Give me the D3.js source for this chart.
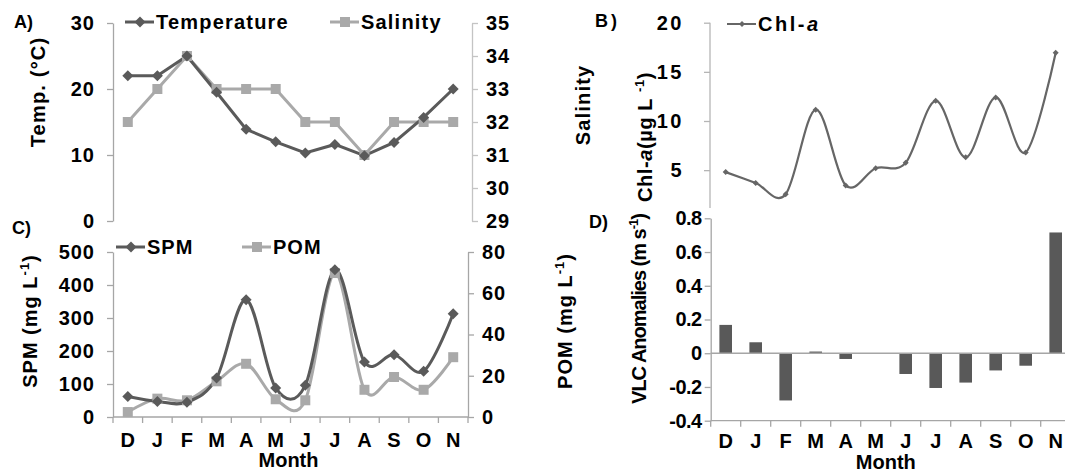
<!DOCTYPE html>
<html>
<head>
<meta charset="utf-8">
<script src="https://cdn.jsdelivr.net/npm/d3@7"></script>
<style>
body { margin: 0; background: #fff; }
svg text { font-family: "Liberation Sans", Arial, sans-serif; font-weight: bold; fill: #000; }
</style>
</head>
<body>
<script>
// data
const months = ["D", "J", "F", "M", "A", "M", "J", "J", "A", "S", "O", "N"]
const temperature = [22, 22, 25, 19.5, 13.9, 12, 10.3, 11.6, 9.9, 11.9, 15.7, 20]
const salinity = [32, 33, 34, 33, 33, 33, 32, 32, 31, 32, 32, 32]
const chla = [4.8, 3.7, 2.55, 11.15, 3.45, 5.2, 5.75, 12.05, 6.3, 12.4, 6.8, 16.95]
const spm = [62, 47, 45, 118, 355, 88, 96, 446, 167, 189, 139, 313]
const pom = [2.4, 8.9, 8.1, 17.3, 25.8, 8.6, 8.1, 69.8, 13.2, 19.4, 13.2, 29]
const vlc = [0.168, 0.065, -0.28, 0.01, -0.034, 0, -0.123, -0.206, -0.174, -0.102, -0.074, 0.716]

const tempTicks = [0, 10, 20, 30]
const salTicks = [29, 30, 31, 32, 33, 34, 35]
const chlTicks = [5, 10, 15, 20]
const spmTicks = [0, 100, 200, 300, 400, 500]
const pomTicks = [0, 20, 40, 60, 80]
const vlcTicks = [-0.4, -0.2, 0, 0.2, 0.4, 0.6, 0.8]

const dark = "#5a5a5a"
const light = "#a9a9a9"
const axisCol = "#a6a6a6"

const W = 1065, H = 475
const svg = d3.select("body").append("svg").attr("width", W).attr("height", H)

const idx = d3.range(12)
const xL = d3.scaleBand().domain(idx).range([113, 468])
const xR = d3.scaleBand().domain(idx).range([710.7, 1070.7])
const cx = (x, i) => x(i) + x.bandwidth() / 2

const yTemp = d3.scaleLinear().domain([0, 30]).range([221, 23])
const ySal = d3.scaleLinear().domain([29, 35]).range([221, 23])
const ySpm = d3.scaleLinear().domain([0, 500]).range([417, 252])
const yPom = d3.scaleLinear().domain([0, 80]).range([417, 252])
const yChl = d3.scaleLinear().domain([0, 20]).range([219.3, 22.7])
const yVlc = d3.scaleLinear().domain([-0.4, 0.8]).range([420.7, 218.3])

const diamond = r => `M0,${-r}L${r},0L0,${r}L${-r},0Z`
const square = r => `M${-r},${-r}H${r}V${r}H${-r}Z`

function yAxis(gen, scale, ticks, x, color, fmt, pad, spacing) {
  const g = svg.append("g").attr("transform", `translate(${x},0)`)
    .call(gen(scale).tickValues(ticks).tickSize(6).tickSizeOuter(0).tickPadding(pad).tickFormat(fmt || (d => d)))
  g.select(".domain").attr("stroke", color).attr("stroke-width", 1.3)
  g.selectAll(".tick line").attr("stroke", color).attr("stroke-width", 1.3)
  g.selectAll("text").attr("font-size", 20).style("letter-spacing", (spacing || 1) + "px")
  return g
}

function line(data, x, y, color, width, smooth) {
  const gen = d3.line().x((d, i) => cx(x, i)).y(d => y(d))
  if (smooth) gen.curve(d3.curveCardinal.tension(0))
  svg.append("path").datum(data).attr("d", gen)
    .attr("fill", "none").attr("stroke", color).attr("stroke-width", width)
}

function markers(data, x, y, color, shape, r) {
  svg.append("g").selectAll("path").data(data).join("path")
    .attr("transform", (d, i) => `translate(${cx(x, i)},${y(d)})`)
    .attr("d", shape(r)).attr("fill", color)
}

function legend(x, y, label, color, shape, r, width, spacing, italicTail) {
  svg.append("line").attr("x1", x).attr("x2", x + 29).attr("y1", y).attr("y2", y)
    .attr("stroke", color).attr("stroke-width", width)
  svg.append("path").attr("transform", `translate(${x + 15},${y})`).attr("d", shape(r)).attr("fill", color)
  const t = svg.append("text").attr("x", x + 31).attr("y", y + 7).attr("font-size", 20)
    .style("letter-spacing", spacing + "px").text(label)
  if (italicTail) t.append("tspan").attr("font-style", "italic").text(italicTail)
}

function vlabel(x, y, parts, spacing) {
  const t = svg.append("text").attr("transform", `translate(${x},${y}) rotate(-90)`)
    .attr("text-anchor", "middle").attr("font-size", 20).style("letter-spacing", spacing + "px")
  parts.forEach(p => {
    const s = t.append("tspan").text(p.t)
    if (p.i) s.attr("font-style", "italic")
    if (p.sup) s.attr("font-size", 13).attr("dy", -8)
    if (p.down) s.attr("dy", 8)
  })
}

function monthAxis(x, y, mY, titleY) {
  const g = svg.append("g").attr("transform", `translate(0,${y})`)
  g.append("line").attr("x1", x.range()[0]).attr("x2", x.range()[1]).attr("stroke", axisCol).attr("stroke-width", 1.3)
  g.selectAll(".tk").data(d3.range(13)).join("line")
    .attr("x1", i => x.range()[0] + i * x.step()).attr("x2", i => x.range()[0] + i * x.step())
    .attr("y1", 0).attr("y2", 6).attr("stroke", axisCol).attr("stroke-width", 1.3)
  g.selectAll(".m").data(months).join("text")
    .attr("x", (d, i) => cx(x, i)).attr("y", mY).attr("text-anchor", "middle")
    .attr("font-size", 20).text(d => d)
  g.append("text").attr("x", (x.range()[0] + Math.min(x.range()[1], W)) / 2 - 2).attr("y", titleY)
    .attr("text-anchor", "middle").attr("font-size", 20).text("Month")
}

// ---- A) temperature & salinity
yAxis(d3.axisLeft, yTemp, tempTicks, 113, axisCol, null, 12)
yAxis(d3.axisRight, ySal, salTicks, 472, "#c4c4c4", null, 8)
line(salinity, xL, ySal, light, 3)
line(temperature, xL, yTemp, dark, 3)
markers(salinity, xL, ySal, light, square, 5)
markers(temperature, xL, yTemp, dark, diamond, 5.5)
legend(125, 22, "Temperature", dark, diamond, 5.5, 3, 1.2)
legend(330, 22, "Salinity", light, square, 5, 3, 1.2)

// ---- C) SPM & POM
yAxis(d3.axisLeft, ySpm, spmTicks, 113, axisCol, null, 12)
yAxis(d3.axisRight, yPom, pomTicks, 468, axisCol, null, 8)
monthAxis(xL, 417, 30, 50)
line(pom, xL, yPom, light, 3, true)
line(spm, xL, ySpm, dark, 3, true)
markers(pom, xL, yPom, light, square, 5)
markers(spm, xL, ySpm, dark, diamond, 5.5)
legend(116, 247, "SPM", dark, diamond, 5.5, 3, 1)
legend(242, 247, "POM", light, square, 5, 3, 1)

// ---- B) Chl-a
const gB = yAxis(d3.axisLeft, yChl, chlTicks, 710, "#b5b5b5", null, 20, 2.5)
gB.select(".domain").attr("d", `M0,${yChl(20)}V208`)
line(chla, xR, yChl, "#666", 2.2, true)
markers(chla, xR, yChl, "#666", diamond, 3)
legend(727, 24, "Chl-", "#666", diamond, 3, 2, 2.5, "a")

// ---- D) VLC anomalies
const fmtV = d => d === 0 ? "0" : d.toFixed(1)
yAxis(d3.axisLeft, yVlc, vlcTicks, 710.7, axisCol, fmtV, 3, -0.5)
svg.append("g").selectAll("rect").data(vlc).join("rect")
  .attr("x", (d, i) => cx(xR, i) - 6.3).attr("width", 12.6)
  .attr("y", d => yVlc(Math.max(0, d))).attr("height", d => Math.abs(yVlc(d) - yVlc(0)))
  .attr("fill", "#595959")
svg.append("line").attr("x1", 710.7).attr("x2", W).attr("y1", yVlc(0)).attr("y2", yVlc(0))
  .attr("stroke", axisCol).attr("stroke-width", 1.3)
monthAxis(xR, yVlc(-0.4), 27, 48)

// ---- axis titles and panel letters
vlabel(45, 92, [{t: "Temp. (°C)"}], 1.2)
vlabel(37, 321, [{t: "SPM (mg  L"}, {t: "-1", sup: true}, {t: ")", down: true}], 1)
vlabel(590, 105, [{t: "Salinity"}], 1.2)
vlabel(572, 321, [{t: "POM (mg L"}, {t: "-1", sup: true}, {t: ")", down: true}], 1)
vlabel(652, 137, [{t: "Chl-"}, {t: "a", i: true}, {t: "(µg  L "}, {t: "-1", sup: true}, {t: ")", down: true}], 0.6)
vlabel(646, 309, [{t: "VLC Anomalies (m s"}, {t: "-1", sup: true}, {t: ")", down: true}], -1)

const letters = [["A)", 14, 28], ["C)", 12, 234], ["B)", 595, 27], ["D)", 589, 228]]
letters.forEach(([t, x, y]) => svg.append("text").attr("x", x).attr("y", y).attr("font-size", 18)
  .style("letter-spacing", t === "B)" ? "3px" : "0px").text(t))
</script>
</body>
</html>
